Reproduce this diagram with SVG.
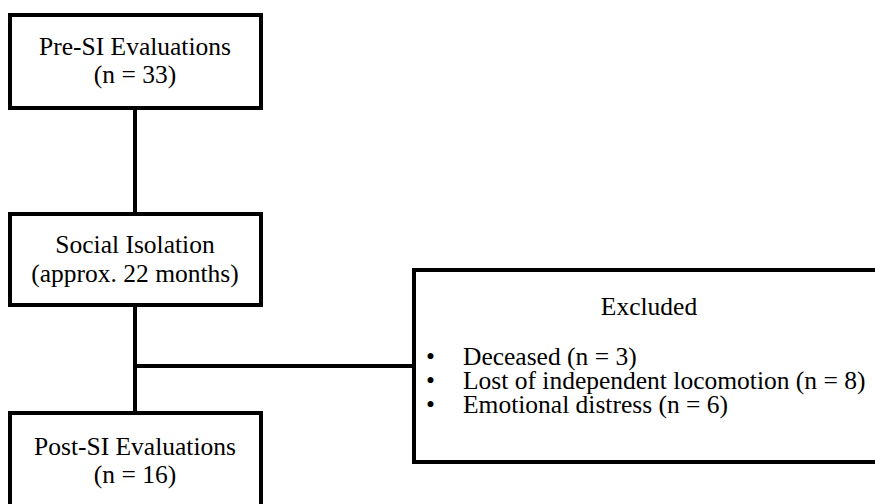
<svg xmlns="http://www.w3.org/2000/svg" width="875" height="504" viewBox="0 0 875 504">
<style>
.box{fill:#fff;stroke:#000;stroke-width:4}
.ln{stroke:#000;stroke-width:4;fill:none}
.t{font-family:'Liberation Serif','Times New Roman','DejaVu Serif',serif;font-size:25.5px;fill:#000}
.c{text-anchor:middle}
</style>
<rect width="875" height="504" fill="#fff"/>
<g id="connectors">
<line class="ln" x1="135" y1="108" x2="135" y2="214"/>
<line class="ln" x1="135" y1="305" x2="135" y2="413"/>
<line class="ln" x1="135" y1="366" x2="414" y2="366"/>
</g>
<g id="pre" class="t" font-family="Liberation Serif, serif">
<rect class="box" x="10" y="15" width="251" height="93"/>
<text class="t c" x="135" y="55">Pre-SI Evaluations</text>
<text class="t c" x="135" y="83">(n = 33)</text>
</g>
<g id="si" class="t" font-family="Liberation Serif, serif">
<rect class="box" x="10" y="214" width="251" height="91"/>
<text class="t c" x="135" y="253">Social Isolation</text>
<text class="t c" x="135" y="282">(approx. 22 months)</text>
</g>
<g id="post" class="t" font-family="Liberation Serif, serif">
<rect class="box" x="10" y="413" width="251" height="110"/>
<text class="t c" x="135" y="455">Post-SI Evaluations</text>
<text class="t c" x="135" y="483">(n = 16)</text>
</g>
<g id="excluded" class="t" font-family="Liberation Serif, serif">
<rect class="box" x="414" y="270" width="480" height="192"/>
<text class="t c" x="649" y="315">Excluded</text>
<text class="t" y="365"><tspan x="426">•</tspan><tspan x="463">Deceased (n = 3)</tspan></text>
<text class="t" y="389"><tspan x="426">•</tspan><tspan x="463">Lost of independent locomotion (n = 8)</tspan></text>
<text class="t" y="413"><tspan x="426">•</tspan><tspan x="463">Emotional distress (n = 6)</tspan></text>
</g>
</svg>
